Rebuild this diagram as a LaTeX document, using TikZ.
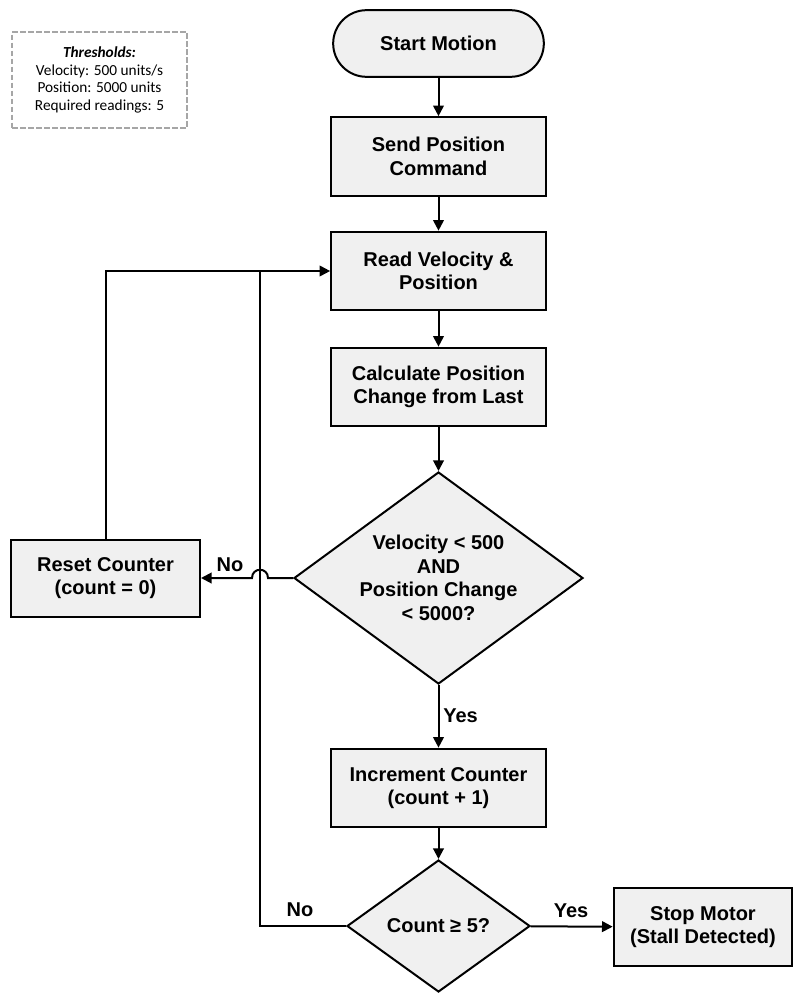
\documentclass[tikz,border=0pt]{standalone}
\usepackage{fontspec}
\setmainfont{Liberation Sans}
\newfontfamily\notefont{Carlito}
\usepackage{tikz}
\usetikzlibrary{shapes.geometric,arrows.meta}
\definecolor{boxfill}{HTML}{F0F0F0}
\definecolor{notegray}{HTML}{A6A6A6}

\begin{document}
\begin{tikzpicture}[x=0.75pt,y=0.75pt,yscale=-1,xscale=1,
	every node/.style={font=\fontsize{15}{17.75}\selectfont\bfseries},
	terminal/.style={draw,line width=1.5pt,fill=boxfill,rounded corners=25pt,minimum width=158pt,minimum height=50pt,align=center},
	process/.style={draw,line width=1.5pt,fill=boxfill,minimum width=161pt,minimum height=59pt,align=center,inner sep=2pt},
	decision/.style={draw,line width=1.5pt,fill=boxfill,diamond,align=center,inner sep=0pt},
	note/.style={draw=notegray,line width=1.5pt,dash pattern=on 4pt off 2pt,minimum width=131pt,minimum height=72pt,align=center,font=\notefont\fontsize{11.5}{13.2}\selectfont},
	arrow/.style={line width=1.5pt,-{Triangle[length=8pt,width=8pt]}},
	line/.style={line width=1.5pt}]
	\useasboundingbox (0,0) rectangle (793,993);
	
	% Note Node
	\node [note] (thresh) at (99.5,80) {\textbf{\textit{Thresholds:}}\\Velocity: 500 units/s\\Position: 5000 units\\Required readings: 5};
	
	% Terminal Node
	\node [terminal] (start) at (438.5,43.5) {Start Motion};
	% Process Nodes
	\node [process] (send) at (438.5,156.5) {Send Position\\Command};
	\node [process] (read) at (438.5,271) {Read Velocity \&\\Position};
	\node [process] (calc) at (438.5,387) {Calculate Position\\Change from Last};
	% Decision Node
	\node [decision,shape aspect=1.36,minimum width=216.75pt,minimum height=159pt] (check) at (438.5,578) {Velocity < 500\\AND\\Position Change\\< 5000?};
	\node [process,minimum width=141.75pt,minimum height=57.75pt] (reset) at (105.5,578) {Reset Counter\\(count = 0)};
	\node [process] (incr) at (438.5,788) {Increment Counter\\(count + 1)};
	\node [decision,shape aspect=1.39,minimum width=137.25pt,minimum height=99pt] (count) at (438.5,926) {Count ≥ 5?};
	\node [process,minimum width=134pt,minimum height=58.5pt] (stop) at (703,927) {Stop Motor\\(Stall Detected)};
	
	% Points
	\coordinate (join) at (260,271);
	\coordinate (hopR) at (268,578);
	\coordinate (hopL) at (252,578);
	
	% Connectors
	\draw [arrow] (start) -- (send);
	\draw [arrow] (send) -- (read);
	\draw [arrow] (read) -- (calc);
	\draw [arrow] (calc) -- (check);
	\draw [arrow] (check) -- (incr);
	\draw [arrow] (incr) -- (count);
	\draw [arrow] (count) -- (stop);
	\draw [arrow] (check.west) -- (hopR) .. controls (268,567) and (252,567) .. (hopL) -- (reset.east);
	\draw [arrow] (reset.north) |- (read.west);
	\draw [line] (count.west) -| (join);
	
	% Text Nodes
	\node (no1) at (230,565) {No};
	\node [anchor=west,inner sep=0pt] (yes1) at (443,716) {Yes};
	\node (no2) at (300,910) {No};
	\node (yes2) at (571,911) {Yes};
\end{tikzpicture}
\end{document}
